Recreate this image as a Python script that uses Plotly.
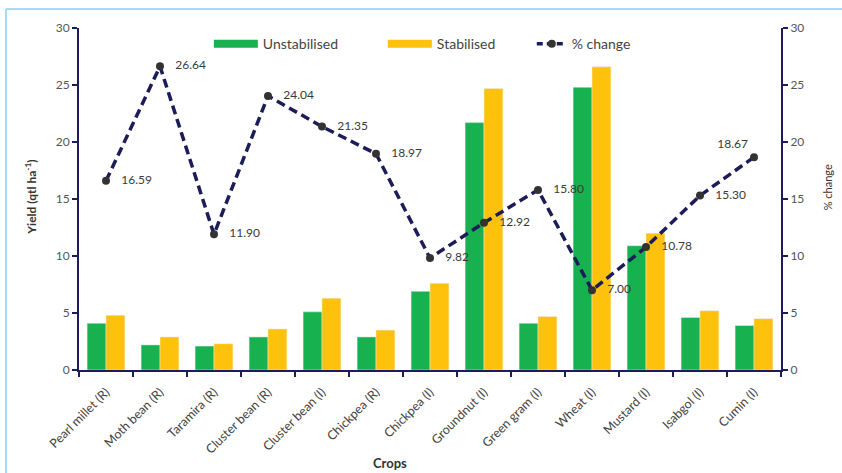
import plotly.graph_objects as go

# Crop yields (qtl/ha) under unstabilised and stabilised conditions, with % change
crops = ["Pearl millet (R)", "Moth bean (R)", "Taramira (R)", "Cluster bean (R)",
         "Cluster bean (I)", "Chickpea (R)", "Chickpea (I)", "Groundnut (I)",
         "Green gram (I)", "Wheat (I)", "Mustard (I)", "Isabgol (I)", "Cumin (I)"]
unstabilised = [4.1, 2.2, 2.1, 2.9, 5.1, 2.9, 6.9, 21.7, 4.1, 24.8, 10.9, 4.6, 3.9]
stabilised = [4.8, 2.9, 2.3, 3.6, 6.3, 3.5, 7.6, 24.7, 4.7, 26.6, 12.0, 5.2, 4.5]
pct_change = [16.59, 26.64, 11.90, 24.04, 21.35, 18.97, 9.82, 12.92, 15.80, 7.00, 10.78, 15.30, 18.67]
y_ticks = [0, 5, 10, 15, 20, 25, 30]

GREEN = "#17b14f"
YELLOW = "#fec20c"
NAVY = "#1c1c5a"
FONT = "Lato"

label_pos = ["middle right"] * (len(crops) - 1) + ["top left"]
label_txt = [f"   {v:.2f}" for v in pct_change[:-1]] + [f"{pct_change[-1]:.2f}"]

fig = go.Figure()
fig.add_trace(go.Bar(x=crops, y=unstabilised, marker_color=GREEN, showlegend=False,
                     name="Unstabilised"))
fig.add_trace(go.Bar(x=crops, y=stabilised, marker_color=YELLOW, showlegend=False,
                     name="Stabilised"))
fig.add_trace(go.Scatter(
    x=crops, y=pct_change, yaxis="y2", mode="lines+markers+text",
    line=dict(color=NAVY, width=3.5, dash="9px,5px"),
    marker=dict(color="#333333", size=8),
    text=label_txt, textposition=label_pos,
    textfont=dict(family=FONT, size=12, color="#3a3a3a"),
    cliponaxis=False, showlegend=False, name="% change"))

# legend entries with wide swatches
fig.add_trace(go.Scatter(x=[None], y=[None], mode="lines", name="Unstabilised",
                         line=dict(color=GREEN, width=8)))
fig.add_trace(go.Scatter(x=[None], y=[None], mode="lines", name="Stabilised",
                         line=dict(color=YELLOW, width=8)))
fig.add_trace(go.Scatter(x=[None], y=[None], mode="lines+markers", name="% change",
                         legend="legend2",
                         line=dict(color=NAVY, width=3.5, dash="6px,4px"),
                         marker=dict(color="#333333", size=8)))

axis_common = dict(
    range=[0, 30], tickvals=y_ticks, showgrid=False, zeroline=False,
    showline=True, linecolor=NAVY, linewidth=2,
    ticks="outside", ticklen=5, tickwidth=2, tickcolor=NAVY,
    tickfont=dict(family=FONT, size=12, color="#555555"),
)

fig.update_layout(
    width=842, height=473,
    margin=dict(l=79, r=61, t=28, b=103),
    paper_bgcolor="white", plot_bgcolor="white",
    barmode="group", bargap=0.3, bargroupgap=0.0,
    font=dict(family=FONT, color="#333333"),
    xaxis=dict(type="category", range=[-0.5, 12.5], tickangle=-45,
               tickson="boundaries", ticks="outside", ticklen=5, tickwidth=2,
               tickcolor=NAVY, showline=True, linecolor=NAVY, linewidth=2,
               ticklabelstandoff=8,
               showgrid=False, tickfont=dict(family=FONT, size=12.5, color="#444444")),
    yaxis=axis_common,
    yaxis2=dict(overlaying="y", side="right", **axis_common),
    legend=dict(orientation="h", x=0.185, y=0.953, xanchor="left", yanchor="middle",
                font=dict(family=FONT, size=14, color="#444444"),
                itemwidth=44, entrywidth=115, bgcolor="rgba(0,0,0,0)"),
    legend2=dict(orientation="h", x=0.645, y=0.953, xanchor="left", yanchor="middle",
                 font=dict(family=FONT, size=14, color="#444444"),
                 itemwidth=30, bgcolor="rgba(0,0,0,0)"),
    annotations=[
        dict(text="<b>Yield (qtl ha<sup>-1</sup>)</b>", x=-0.083, y=0.506,
             xref="paper", yref="paper", textangle=-90, showarrow=False,
             font=dict(family=FONT, size=12, color="#333333")),
        dict(text="% change", x=1.078, y=0.535, xref="paper", yref="paper",
             textangle=-90, showarrow=False,
             font=dict(family=FONT, size=11, color="#333333")),
        dict(text="<b>Crops</b>", x=0.443, y=-0.272, xref="paper", yref="paper",
             yanchor="middle", showarrow=False,
             font=dict(family=FONT, size=13, color="#333333")),
    ],
    shapes=[
        dict(type="line", xref="paper", yref="paper", x0=-0.104, x1=1.09,
             y0=1.0556, y1=1.0556, line=dict(color="#a6dbf3", width=2)),
        dict(type="line", xref="paper", yref="paper", x0=-0.104, x1=-0.104,
             y0=1.0556, y1=-0.31, line=dict(color="#a6dbf3", width=2)),
    ],
)

fig.write_html("out.html")
